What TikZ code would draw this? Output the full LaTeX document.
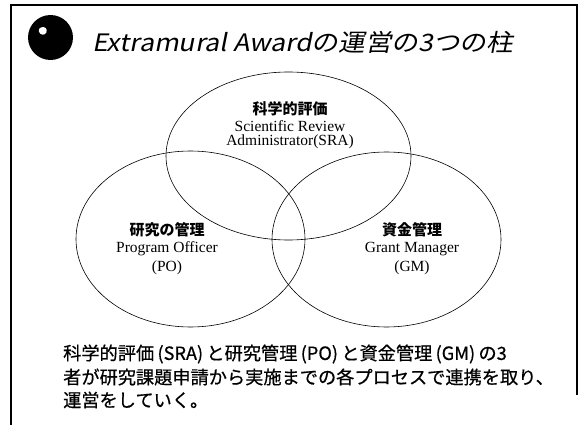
\documentclass[tikz,border=0pt]{standalone}
\usepackage{fontspec}
\usetikzlibrary{shapes.geometric}
\setmainfont{Liberation Serif}
\newfontfamily\jp{Noto Sans CJK JP}
\newfontfamily\jpbody[FakeBold=0.6]{Noto Sans CJK JP}
\newfontfamily\jptitle[FakeSlant=0.2,FakeStretch=1.11]{Noto Sans CJK JP}
\newcommand\hp[1]{\hspace{0.18em}(#1)\hspace{0.18em}}
\tikzset{
  venn/.style={draw, ellipse, line width=0.6pt, inner sep=0pt},
  jlabel/.style={inner sep=0pt, font=\jp\bfseries\fontsize{15}{18}\selectfont},
  elabel/.style={inner sep=0pt, font=\fontsize{15.5}{18}\selectfont},
  body/.style={anchor=west, inner sep=0pt, font=\jpbody\fontsize{18.2}{22}\selectfont},
  frame/.style={line width=1.5pt}
}
\begin{document}
\begin{tikzpicture}[x=1pt,y=-1pt]
\useasboundingbox (0,0) rectangle (579,425);
\fill[white] (0,0) rectangle (579,425);
% frame
\coordinate (fbl) at (11,425);
\coordinate (ftl) at (11,5);
\coordinate (ftr) at (577,5);
\coordinate (fbr) at (577,395);
\draw[frame] (fbl) -- (ftl) -- (ftr) -- (fbr);
% disc
\fill[black] (50.5,37.5) circle (22.5);
\fill[white, rounded corners=1.5pt] (38,30) -- (42,26.5) -- (47,28.5) -- (46,34) -- (41,35) -- cycle;
% title
\node[anchor=base west, inner sep=0pt, font=\jptitle\fontsize{24}{30}\selectfont] (title) at (92,52) {Extramural Awardの運営の3つの柱};
% ellipses
\node[venn, minimum width=245pt, minimum height=168pt] (sra) at (288.5,156) {};
\node[venn, minimum width=229pt, minimum height=176pt] (po) at (190.5,239) {};
\node[venn, minimum width=229pt, minimum height=175pt] (gm) at (386.5,239.5) {};
% labels
\node[jlabel] (sra1) at (290,109) {科学的評価};
\node[elabel] (sra2) at (290,126) {Scientific Review};
\node[elabel] (sra3) at (290,142) {Administrator(SRA)};
\node[jlabel] (po1) at (167,230) {研究の管理};
\node[elabel] (po2) at (167,249) {Program Officer};
\node[elabel] (po3) at (167,268) {(PO)};
\node[jlabel] (gm1) at (412,230) {資金管理};
\node[elabel] (gm2) at (412,249) {Grant Manager};
\node[elabel] (gm3) at (412,268) {(GM)};
% body text
\node[body] (t1) at (63,354) {科学的評価\hp{SRA}と研究管理\hp{PO}と資金管理\hp{GM}の3};
\node[body] (t2) at (63,377) {者が研究課題申請から実施までの各プロセスで連携を取り、};
\node[body] (t3) at (63,400) {運営をしていく。};
\end{tikzpicture}
\end{document}
